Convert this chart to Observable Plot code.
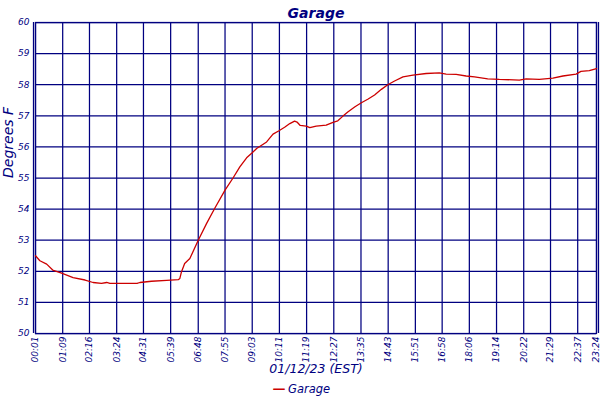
<!DOCTYPE html>
<html><head><meta charset="utf-8">
<script src="https://cdn.jsdelivr.net/npm/d3@7"></script>
<script src="https://cdn.jsdelivr.net/npm/@observablehq/plot@0.6"></script>
<style>body{margin:0;background:#fff} svg{display:block}</style>
</head><body><div id="chart"></div>
<script>
const times = ["00:01","00:12","00:29","00:44","01:08","01:35","02:05","02:25","02:46","02:59","03:07","03:24","04:15","04:22","04:51","05:29","05:58","06:02","06:06","06:14","06:27","06:48","07:09","07:29","07:55","08:15","08:32","08:49","09:03","09:14","09:39","09:55","10:10","10:24","10:37","10:49","10:55","11:03","11:18","11:27","11:43","12:08","12:25","12:37","12:50","13:02","13:20","13:36","13:53","14:09","14:26","14:42","14:59","15:20","15:45","16:18","16:51","17:08","17:33","17:58","18:19","18:52","19:21","20:11","20:28","21:01","21:35","22:00","22:33","22:45","23:06","23:24"];
const temps = [52.5,52.34,52.23,52.04,51.93,51.8,51.72,51.64,51.61,51.64,51.61,51.61,51.61,51.64,51.68,51.71,51.73,51.77,51.98,52.25,52.41,53.0,53.54,54.02,54.61,55.0,55.36,55.65,55.81,55.95,56.16,56.41,56.52,56.63,56.75,56.83,56.8,56.69,56.67,56.62,56.67,56.7,56.79,56.84,56.99,57.12,57.29,57.42,57.54,57.67,57.85,58.0,58.12,58.25,58.31,58.36,58.38,58.34,58.33,58.28,58.25,58.19,58.17,58.15,58.19,58.17,58.21,58.28,58.34,58.43,58.45,58.52];
const tickLabels = ["00:01","01:09","02:16","03:24","04:31","05:39","06:48","07:55","09:03","10:11","11:19","12:27","13:35","14:43","15:51","16:58","18:06","19:14","20:22","21:29","22:37","23:24"];
const yTicks = [50,51,52,53,54,55,56,57,58,59,60];
const seriesName = "Garage";
const titleText = "Garage";
const xTitle = "01/12/23 (EST)";
const yTitle = "Degrees F";

const toMin = s => { const [h, m] = s.split(":").map(Number); return h * 60 + m; };
const data = times.map((t, i) => ({t: toMin(t), v: temps[i]}));
const tickMins = tickLabels.map(toMin);
const labelOf = new Map(tickMins.map((m, i) => [m, tickLabels[i]]));
const navy = "#000080";
const red = "#cc0000";
const xDomain = [tickMins[0], tickMins[tickMins.length - 1]];
const gridStyle = {stroke: navy, strokeOpacity: 1, strokeWidth: 1.25};

const chart = Plot.plot({
  width: 600, height: 400,
  marginLeft: 35, marginRight: 4, marginTop: 22, marginBottom: 67,
  style: {fontFamily: "'DejaVu Sans', Verdana, sans-serif", fontStyle: "italic", fontSize: "9px", color: navy, background: "#fff", overflow: "visible"},
  x: {domain: xDomain},
  y: {domain: [50, 60]},
  marks: [
    Plot.gridY(yTicks, gridStyle),
    Plot.gridX(tickMins, gridStyle),
    Plot.frame({stroke: navy, strokeWidth: 1.25}),
    Plot.ruleX([xDomain[0]], {...gridStyle, dx: -2}),
    Plot.ruleX([xDomain[1]], {...gridStyle, dx: 2}),
    Plot.axisY(yTicks, {tickSize: 0, tickPadding: 6, label: null, fill: navy, fontSize: 9}),
    Plot.axisX(tickMins, {tickSize: 0, tickPadding: 3, tickRotate: -90, label: null, fill: navy, fontSize: 9, tickFormat: d => labelOf.get(d)}),
    Plot.line(data, {x: "t", y: "v", stroke: red, strokeWidth: 1.3}),
    Plot.text([titleText], {text: d => d, frameAnchor: "top", dy: -14, fontSize: 14, fontWeight: "bold", fill: navy}),
    Plot.text([xTitle], {text: d => d, frameAnchor: "bottom", dy: 39, fontSize: 12.5, fill: navy}),
    Plot.text([yTitle], {text: d => d, frameAnchor: "left", dx: -27, rotate: -90, fontSize: 14, fill: navy}),
    Plot.text(["\u2014"], {text: d => d, frameAnchor: "bottom", dx: -37, dy: 59, fontSize: 13, fontWeight: "bold", fill: red, fontStyle: "normal"}),
    Plot.text([seriesName], {text: d => d, frameAnchor: "bottom", dx: -28, dy: 59, textAnchor: "start", fontSize: 11.5, fill: navy})
  ]
});
document.getElementById("chart").appendChild(chart);
</script>
</body></html>
